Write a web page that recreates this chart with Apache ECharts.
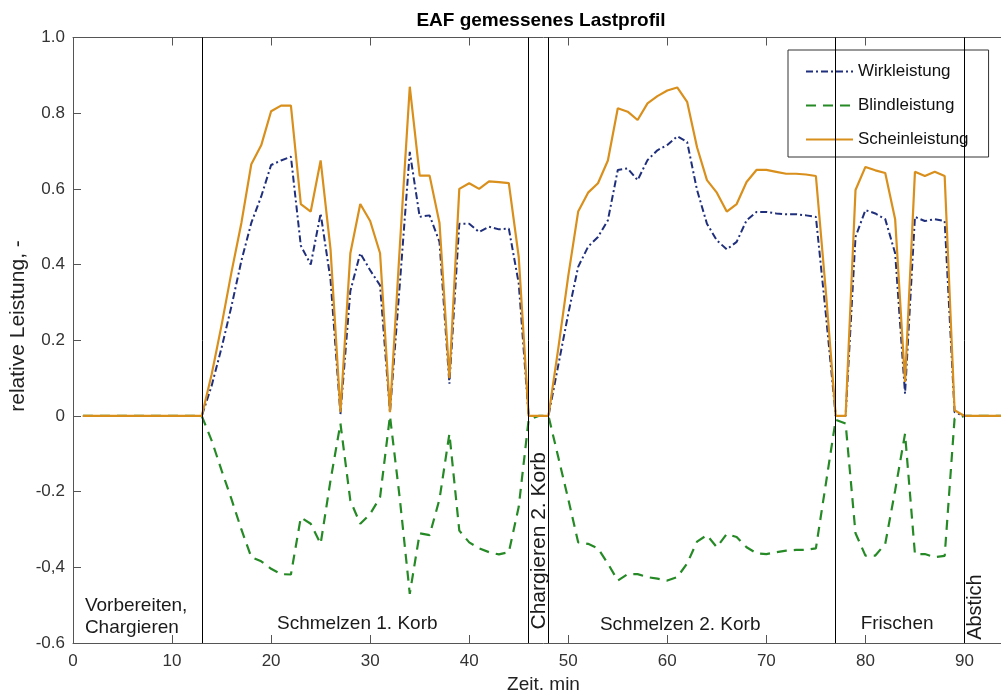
<!DOCTYPE html>
<html><head><meta charset="utf-8">
<script src="https://cdn.jsdelivr.net/npm/echarts@6/dist/echarts.min.js"></script>
<style>html,body{margin:0;padding:0;background:#fff;overflow:hidden;width:1001px;height:690px}#c{width:1014px;height:690px}</style>
</head><body><div id="c"></div>
<script>
// time in minutes
const times = [1,13,14,15,16,17,18,19,20,21,22,23,24,25,26,27,28,29,30,31,32,33,34,35,36,37,38,39,40,41,42,43,44,45,46,47,48,49,50,51,52,53,54,55,56,57,58,59,60,61,62,63,64,65,66,67,68,69,70,71,72,73,74,75,76,77,78,79,80,81,82,83,84,85,86,87,88,89,90,95];
const wirkleistung = [0,0,0.08,0.18,0.29,0.41,0.51,0.58,0.663,0.675,0.685,0.45,0.4,0.535,0.36,0.005,0.33,0.43,0.385,0.345,0.01,0.35,0.698,0.526,0.53,0.46,0.085,0.508,0.508,0.486,0.5,0.493,0.495,0.35,0,0,0,0.135,0.27,0.394,0.447,0.473,0.517,0.65,0.654,0.623,0.676,0.702,0.716,0.739,0.724,0.597,0.508,0.464,0.44,0.46,0.517,0.539,0.539,0.535,0.533,0.533,0.53,0.526,0.27,0,0,0.473,0.544,0.535,0.52,0.43,0.059,0.526,0.515,0.52,0.515,0.01,0,0];
const blindleistung = [0,0,-0.065,-0.144,-0.22,-0.3,-0.373,-0.384,-0.404,-0.418,-0.419,-0.268,-0.285,-0.338,-0.17,-0.02,-0.224,-0.285,-0.259,-0.215,0,-0.22,-0.47,-0.31,-0.315,-0.22,-0.047,-0.303,-0.334,-0.35,-0.36,-0.366,-0.36,-0.24,-0.01,0,0,-0.11,-0.22,-0.334,-0.338,-0.35,-0.39,-0.435,-0.418,-0.418,-0.426,-0.43,-0.435,-0.426,-0.39,-0.332,-0.315,-0.347,-0.312,-0.32,-0.347,-0.363,-0.365,-0.36,-0.356,-0.354,-0.354,-0.35,-0.18,-0.01,-0.02,-0.31,-0.369,-0.369,-0.338,-0.197,-0.047,-0.365,-0.365,-0.373,-0.37,-0.007,0,0];
const scheinleistung = [0,0,0.11,0.24,0.38,0.51,0.665,0.715,0.805,0.82,0.82,0.56,0.54,0.675,0.44,0.01,0.43,0.56,0.515,0.43,0.01,0.45,0.87,0.635,0.635,0.51,0.1,0.6,0.615,0.6,0.62,0.618,0.615,0.42,0,0,0,0.18,0.37,0.54,0.59,0.615,0.675,0.813,0.804,0.782,0.826,0.845,0.86,0.868,0.83,0.71,0.623,0.59,0.54,0.56,0.618,0.65,0.65,0.645,0.64,0.64,0.638,0.634,0.33,0,0,0.597,0.658,0.649,0.642,0.52,0.09,0.645,0.634,0.645,0.634,0.015,0,0];
const seriesNames = ['Wirkleistung','Blindleistung','Scheinleistung'];
const phaseBounds = [13,46,48,77,90];
const phaseNames = ['Vorbereiten,\nChargieren','Schmelzen 1. Korb','Chargieren 2. Korb','Schmelzen 2. Korb','Frischen','Abstich'];
const yTickLabels = ['-0.6','-0,4','-0.2','0','0.2','0.4','0.6','0.8','1.0'];
const titleText = 'EAF gemessenes Lastprofil';
const xName = 'Zeit, min';
const yName = 'relative Leistung, -';

// label layout (data coordinates), rotation flag, alignment, font size
const phaseLabelLayout = [
  {x:1.2, y:-0.53, rot:false, align:'left', size:19},
  {x:28.7, y:-0.549, rot:false, align:'center', size:19},
  {x:47.1, y:-0.33, rot:true, align:'center', size:21},
  {x:61.3, y:-0.552, rot:false, align:'center', size:19},
  {x:83.2, y:-0.549, rot:false, align:'center', size:19},
  {x:91.1, y:-0.505, rot:true, align:'center', size:20}
];

const FONT = 'Liberation Sans, Arial, sans-serif';
const axisColor = '#555';
const chart = echarts.init(document.getElementById('c'), null, {renderer:'canvas'});
const toPairs = arr => times.map((t,i)=>[t, arr[i]]);

const baseAxis = {
  axisLine:{show:true, onZero:false, lineStyle:{color:axisColor, width:1}},
  axisTick:{show:true, inside:true, length:8, lineStyle:{color:axisColor}},
  splitLine:{show:false}
};

chart.setOption({
  animation:false,
  backgroundColor:'#fff',
  grid:{left:73, right:0, top:37.5, bottom:47, containLabel:false, outerBoundsMode:'none'},
  legend:{
    orient:'vertical', left:788, top:50,
    backgroundColor:'#fff', borderColor:'#333', borderWidth:1, borderRadius:0,
    padding:[13,20,9,17], itemWidth:47, itemHeight:14, itemGap:17, itemTextGap:4,
    itemStyle:{opacity:0},
    textStyle:{fontFamily:FONT, fontSize:17, color:'#111'},
    data:seriesNames
  },
  xAxis:[
    Object.assign({}, baseAxis, {type:'value', position:'bottom', min:0, max:95, interval:10,
      name:xName, nameLocation:'middle', nameGap:30,
      nameTextStyle:{fontFamily:FONT, fontSize:19, color:'#222'},
      axisLabel:{fontFamily:FONT, fontSize:17, color:'#333', margin:10, showMaxLabel:false}}),
    Object.assign({}, baseAxis, {type:'value', position:'top', min:0, max:95, interval:10,
      axisLabel:{show:false}})
  ],
  yAxis:[
    Object.assign({}, baseAxis, {type:'value', position:'left', min:-0.6, max:1.0, interval:0.2,
      axisLabel:{fontFamily:FONT, fontSize:17, color:'#333', margin:8,
        formatter:v=>yTickLabels[Math.round((v+0.6)/0.2)]}}),
    Object.assign({}, baseAxis, {type:'value', position:'right', min:-0.6, max:1.0, interval:0.2,
      axisLabel:{show:false}})
  ],
  series:[
    {name:seriesNames[0], type:'line', symbol:'none', data:toPairs(wirkleistung),
      color:'#1f2f7c', lineStyle:{color:'#1f2f7c', width:2, type:[7,3,2,3]}, z:3,
      markLine:{silent:true, symbol:['none','none'], label:{show:false},
        lineStyle:{color:'#000', width:1, type:'solid'},
        data:phaseBounds.map(x=>({xAxis:x}))}},
    {name:seriesNames[1], type:'line', symbol:'none', data:toPairs(blindleistung),
      color:'#258a25', lineStyle:{color:'#258a25', width:2.2, type:[10,7]}, z:2},
    {name:seriesNames[2], type:'line', symbol:'none', data:toPairs(scheinleistung),
      color:'#d98f1c', lineStyle:{color:'#d98f1c', width:2.2, type:'solid'}, z:4}
  ]
});

const gfx = [
  {type:'text', x:541, y:21, z:10,
    style:{text:titleText, font:'bold 19px '+FONT, fill:'#000', textAlign:'center', textVerticalAlign:'middle'}},
  {type:'text', x:18, y:326, rotation:Math.PI/2, z:10,
    style:{text:yName, font:'21px '+FONT, fill:'#222', textAlign:'center', textVerticalAlign:'middle'}}
];
phaseNames.forEach((name,i)=>{
  const L = phaseLabelLayout[i];
  const p = chart.convertToPixel({xAxisIndex:0, yAxisIndex:0}, [L.x, L.y]);
  gfx.push({type:'text', x:p[0], y:p[1], rotation:L.rot?Math.PI/2:0, z:10,
    style:{text:name, font:L.size+'px '+FONT, fill:'#1a1a1a', textAlign:L.align,
      textVerticalAlign:'middle', lineHeight:22}});
});
chart.setOption({graphic:gfx});
</script></body></html>
